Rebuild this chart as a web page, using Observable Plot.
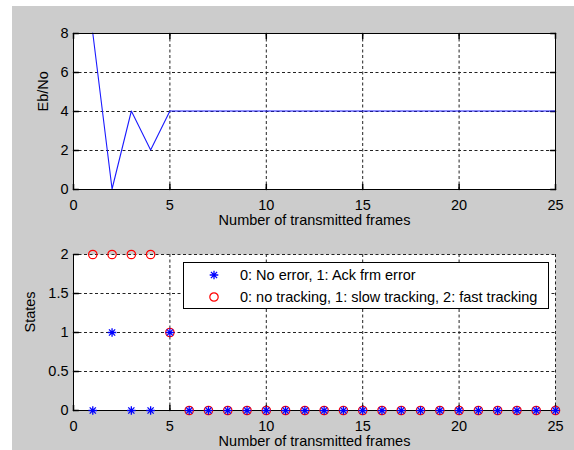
<!DOCTYPE html>
<html><head><meta charset="utf-8">
<script src="https://cdn.jsdelivr.net/npm/d3@7"></script>
<script src="https://cdn.jsdelivr.net/npm/@observablehq/plot@0.6"></script>
<style>
body{margin:0;background:#fff;}
#fig{position:relative;width:574px;height:450px;overflow:hidden;}
#bg{position:absolute;left:12px;top:6px;width:562px;height:444px;background:#cccccc;}
.panel{position:absolute;left:0;}
.panel svg{display:block;overflow:visible;}
#legend{position:absolute;left:183px;top:262px;width:366px;height:47px;box-sizing:border-box;border:1px solid #000;background:#fff;font:14.5px "Liberation Sans",Arial,sans-serif;color:#000;}
#legend .row{position:absolute;left:0;right:0;height:20px;line-height:20px;}
#legend .row svg{position:absolute;left:23px;top:3px;overflow:visible;}
#legend .row span{position:absolute;left:56px;top:0;white-space:nowrap;}
</style>
</head><body>
<div id="fig"><div id="bg"></div><div class="panel" id="p1" style="top:0"></div><div class="panel" id="p2" style="top:225px"></div><div id="legend"></div></div>
<script>
// ---- data ----
const frames = [1,2,3,4,5,6,7,8,9,10,11,12,13,14,15,16,17,18,19,20,21,22,23,24,25];
const ebno = [8,0,4,2,4,4,4,4,4,4,4,4,4,4,4,4,4,4,4,4,4,4,4,4,4];
const ackError = [0,1,0,0,1,0,0,0,0,0,0,0,0,0,0,0,0,0,0,0,0,0,0,0,0];
const tracking = [2,2,2,2,1,0,0,0,0,0,0,0,0,0,0,0,0,0,0,0,0,0,0,0,0];
const xTicks = [0,5,10,15,20,25];
const ebTicks = [0,2,4,6,8];
const stateTicks = [0,0.5,1,1.5,2];
const stateTickLabels = ["0","0.5","1","1.5","2"];
const xLabel = "Number of transmitted frames";
const yLabelTop = "Eb/No";
const yLabelBottom = "States";
const legendLabels = ["0: No error, 1: Ack frm error", "0: no tracking, 1: slow tracking, 2: fast tracking"];

// ---- helpers ----
const font = {fontFamily: "'Liberation Sans', Arial, sans-serif", fontSize: "14.5px", background: "transparent", color: "#000", overflow: "visible"};
const grid = {stroke: "#222", strokeOpacity: 1, strokeDasharray: "3,2.5", strokeWidth: 1};
const tickShape = {draw(ctx, l) { ctx.moveTo(0, 0); ctx.lineTo(0, -l); }};
const starSymbol = {draw(ctx, size) {
  const r = Math.sqrt(size / Math.PI);
  const d = r * 0.72;
  ctx.moveTo(-r, 0); ctx.lineTo(r, 0);
  ctx.moveTo(0, -r); ctx.lineTo(0, r);
  ctx.moveTo(-d, -d); ctx.lineTo(d, d);
  ctx.moveTo(-d, d); ctx.lineTo(d, -d);
}};
function inTicks(vals, axis, pos, rotate) {
  return Plot.vector(vals, axis === "x"
    ? {x: d => d, y: () => pos, length: 5, rotate, anchor: "start", shape: tickShape, stroke: "#000"}
    : {y: d => d, x: () => pos, length: 5, rotate, anchor: "start", shape: tickShape, stroke: "#000"});
}

const ebRows = frames.map((f, i) => ({f, v: ebno[i]}));
const ackRows = frames.map((f, i) => ({f, v: ackError[i]}));
const trkRows = frames.map((f, i) => ({f, v: tracking[i]}));

const topChart = Plot.plot({
  width: 574, height: 225,
  marginLeft: 73, marginRight: 19, marginTop: 33, marginBottom: 36,
  style: font,
  x: {domain: [0, 25]},
  y: {domain: [0, 8]},
  marks: [
    Plot.frame({fill: "white", stroke: null}),
    Plot.gridX(xTicks.slice(1, -1), grid),
    Plot.gridY(ebTicks.slice(1, -1), grid),
    inTicks(xTicks, "x", 0, 0),
    inTicks(xTicks, "x", 8, 180),
    inTicks(ebTicks, "y", 0, 90),
    inTicks(ebTicks, "y", 25, 270),
    Plot.line(ebRows, {x: "f", y: "v", stroke: "#1a1aff", strokeWidth: 1.1, dy: -0.5}),
    Plot.frame({stroke: "#000"}),
    Plot.axisX(xTicks, {tickSize: 0, tickPadding: 10, label: null}),
    Plot.axisY(ebTicks, {tickSize: 0, tickPadding: 5, label: null}),
    Plot.text([xLabel], {frameAnchor: "bottom", dy: 31, lineAnchor: "middle"}),
    Plot.text([yLabelTop], {frameAnchor: "left", dx: -30, rotate: -90, lineAnchor: "middle"})
  ]
});
document.getElementById("p1").appendChild(topChart);

const bottomChart = Plot.plot({
  width: 574, height: 225,
  marginLeft: 73, marginRight: 19, marginTop: 29, marginBottom: 40,
  style: font,
  x: {domain: [0, 25]},
  y: {domain: [0, 2]},
  marks: [
    Plot.frame({fill: "white", stroke: null}),
    Plot.gridX(xTicks.slice(1), grid),
    Plot.gridY(stateTicks.slice(1), grid),
    inTicks(xTicks, "x", 0, 0),
    inTicks(stateTicks, "y", 0, 90),
    Plot.ruleX([0], {stroke: "#000"}),
    Plot.ruleY([0], {stroke: "#000"}),
    Plot.dot(trkRows, {x: "f", y: "v", r: 4.2, stroke: "#ff0000", fill: "none", strokeWidth: 1.2}),
    Plot.dot(ackRows, {x: "f", y: "v", r: 4.3, symbol: starSymbol, stroke: "#0000ff", fill: "none", strokeWidth: 1.3}),
    Plot.axisX(xTicks, {tickSize: 0, tickPadding: 10, label: null}),
    Plot.axisY(stateTicks, {tickSize: 0, tickPadding: 5, label: null, tickFormat: (d) => stateTickLabels[stateTicks.indexOf(d)]}),
    Plot.text([xLabel], {frameAnchor: "bottom", dy: 31, lineAnchor: "middle"}),
    Plot.text([yLabelBottom], {frameAnchor: "left", dx: -43, rotate: -90, lineAnchor: "middle"})
  ]
});
document.getElementById("p2").appendChild(bottomChart);

// ---- legend ----
const legend = d3.select("#legend");
const legendSymbols = [
  {sym: starSymbol, size: Math.PI * 4.3 * 4.3, color: "#0000ff", w: 1.3},
  {sym: d3.symbolCircle, size: Math.PI * 4.2 * 4.2, color: "#ff0000", w: 1.2}
];
const rowTops = [2, 24];
legendLabels.forEach((lab, i) => {
  const row = legend.append("div").attr("class", "row").style("top", rowTops[i] + "px");
  const svg = row.append("svg").attr("width", 14).attr("height", 14);
  const p = d3.path();
  legendSymbols[i].sym.draw(p, legendSymbols[i].size);
  svg.append("path").attr("transform", "translate(7,7)").attr("d", p.toString())
    .attr("fill", "none").attr("stroke", legendSymbols[i].color).attr("stroke-width", legendSymbols[i].w);
  row.append("span").text(lab);
});
</script>
</body></html>
